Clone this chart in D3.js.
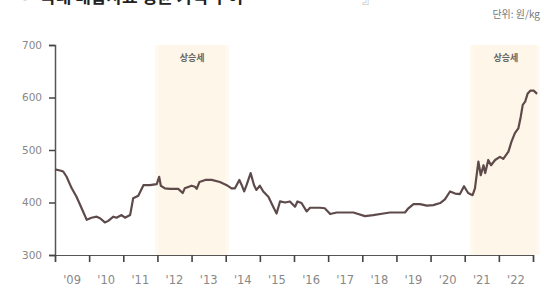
<!DOCTYPE html>
<html><head><meta charset="utf-8">
<script src="https://cdn.jsdelivr.net/npm/d3@7"></script>
<style>body{margin:0;background:#fff}svg{display:block}</style>
</head><body>
<svg id="c" width="544" height="292"></svg>
<script>
// ---- data ----
const years = [2009.00,2009.15,2009.24,2009.34,2009.49,2009.63,2009.78,2009.93,2010.07,2010.22,2010.32,2010.46,2010.56,2010.71,2010.80,2010.95,2011.05,2011.20,2011.29,2011.44,2011.59,2011.78,2011.98,2012.05,2012.10,2012.22,2012.37,2012.61,2012.74,2012.80,2013.00,2013.10,2013.15,2013.23,2013.40,2013.59,2013.83,2014.03,2014.17,2014.27,2014.40,2014.47,2014.54,2014.61,2014.73,2014.83,2014.90,2015.00,2015.10,2015.25,2015.39,2015.49,2015.59,2015.74,2015.88,2016.03,2016.10,2016.22,2016.37,2016.47,2016.76,2016.90,2017.06,2017.25,2017.54,2017.74,2017.88,2018.08,2018.32,2018.62,2018.81,2019.25,2019.35,2019.50,2019.69,2019.89,2020.08,2020.28,2020.42,2020.57,2020.72,2020.86,2020.98,2021.10,2021.23,2021.30,2021.40,2021.47,2021.55,2021.60,2021.69,2021.77,2021.89,2022.03,2022.13,2022.28,2022.37,2022.47,2022.57,2022.64,2022.70,2022.77,2022.84,2022.92,2023.02,2023.12];
const price = [463,461,459,449,427,411,389,367,371,373,370,362,365,373,371,376,371,376,408,413,433,433,435,449,432,427,426,426,418,427,432,430,426,439,443,443,439,433,427,427,443,433,421,433,456,433,424,432,421,411,392,379,402,400,402,392,402,399,383,390,390,389,378,381,381,381,378,374,376,379,381,381,389,397,397,394,395,399,406,421,417,416,431,418,414,427,478,452,471,456,481,471,481,487,483,497,516,532,541,563,586,592,607,613,613,607];
const tickYears = [2009,2010,2011,2012,2013,2014,2015,2016,2017,2018,2019,2020,2021,2022,2023];
const yearLabels = ["'09","'10","'11","'12","'13","'14","'15","'16","'17","'18","'19","'20","'21","'22"];
const yTicks = [300,400,500,600,700];
const bandStart = [2011.93, 2021.15];
const bandEnd = [2014.10, 2023.20];
const bandLabel = ["상승세","상승세"];
const unitText = "단위: 원/kg";
const titleText = "국내 배합사료 평균 가격 추이";

// ---- drawing ----
const svg = d3.select("#c");
const x = d3.scaleLinear().domain([2009, 2023]).range([55, 533]);
const y = d3.scaleLinear().domain([300, 700]).range([255, 45]);
const KR = "'Noto Sans CJK KR','Noto Sans',sans-serif";

// title (cut at top edge, as in the reference)
svg.append("text").attr("x", 14).attr("y", 3).attr("font-family", KR)
  .attr("font-size", 16).attr("fill", "#bbb").text("『");
svg.append("text").attr("x", 40).attr("y", 3).attr("font-family", KR)
  .attr("font-size", 17).attr("font-weight", "bold").attr("fill", "#222").text(titleText);
svg.append("text").attr("x", 362).attr("y", 3).attr("font-family", KR)
  .attr("font-size", 16).attr("fill", "#bbb").text("』");

svg.append("text").attr("x", 540).attr("y", 18).attr("text-anchor", "end")
  .attr("font-family", KR).attr("font-size", 10).attr("fill", "#777").text(unitText);

// bands
const defs = svg.append("defs");
const g = defs.append("linearGradient").attr("id", "bg").attr("x1", 0).attr("x2", 1);
g.append("stop").attr("offset", "0%").attr("stop-color", "#fef6e8").attr("stop-opacity", 0.5);
g.append("stop").attr("offset", "7%").attr("stop-color", "#fef6e8").attr("stop-opacity", 1);
g.append("stop").attr("offset", "93%").attr("stop-color", "#fef6e8").attr("stop-opacity", 1);
g.append("stop").attr("offset", "100%").attr("stop-color", "#fef6e8").attr("stop-opacity", 0.5);

bandStart.forEach((s, i) => {
  svg.append("rect").attr("x", x(s)).attr("y", y(700))
    .attr("width", x(bandEnd[i]) - x(s)).attr("height", y(300) - y(700))
    .attr("fill", "url(#bg)");
  const cx = i === 0 ? (x(s) + x(bandEnd[i])) / 2 : x(s) + 36;
  svg.append("text").attr("x", cx).attr("y", 61).attr("text-anchor", "middle")
    .attr("font-family", KR).attr("font-size", 9).attr("font-weight", "bold")
    .attr("fill", "#666").text(bandLabel[i]);
});

// y axis
const ya = svg.append("g").attr("transform", "translate(55,0)")
  .call(d3.axisLeft(y).tickValues(yTicks).tickSize(6).tickPadding(7).tickFormat(d3.format("d")));
ya.select(".domain").attr("stroke", "#555").attr("stroke-width", 1.5);
ya.selectAll(".tick line").attr("stroke", "#444").attr("stroke-width", 1.5);
ya.selectAll("text").attr("font-family", "'DejaVu Sans',sans-serif").attr("font-size", 10.5)
  .attr("fill", "#888");

// x axis
const xa = svg.append("g").attr("transform", "translate(0,255)")
  .call(d3.axisBottom(x).tickValues(tickYears).tickSize(7).tickFormat(""));
xa.select(".domain").attr("stroke", "#555").attr("stroke-width", 1.2);
xa.selectAll(".tick line").attr("stroke", "#444").attr("stroke-width", 1.6);

svg.append("g").selectAll("text").data(yearLabels).join("text")
  .attr("x", (d, i) => x(tickYears[i] + 0.5)).attr("y", 284)
  .attr("text-anchor", "middle").attr("font-family", "'DejaVu Sans',sans-serif")
  .attr("font-size", 11.5).attr("fill", "#888").text(d => d);

// line
const pts = years.map((t, i) => [t, price[i]]);
svg.append("path").datum(pts)
  .attr("fill", "none").attr("stroke", "#5e4a4a").attr("stroke-width", 2.2)
  .attr("stroke-linejoin", "round")
  .attr("d", d3.line().x(d => x(d[0])).y(d => y(d[1])));
</script>
</body></html>
